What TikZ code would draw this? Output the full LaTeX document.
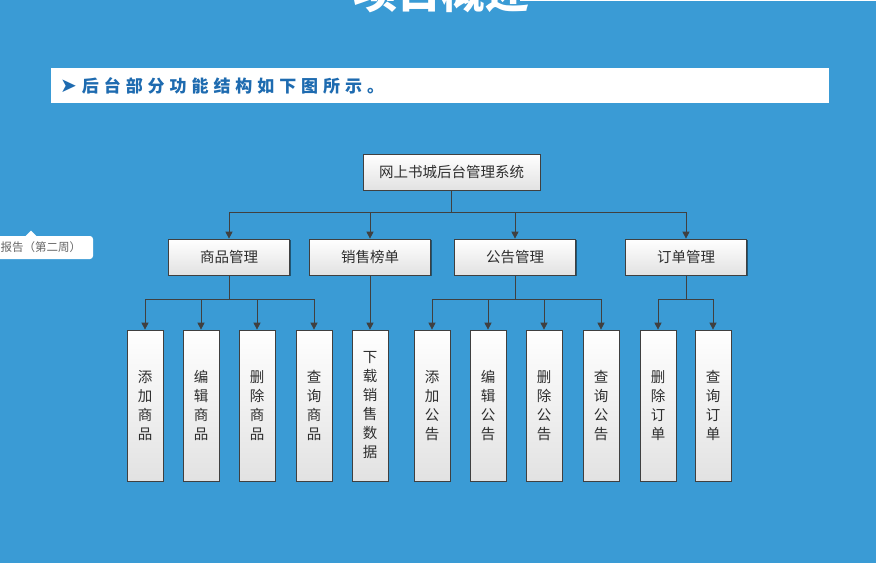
\documentclass[tikz,border=0pt]{standalone}
\usepackage{fontspec}
\usepackage{tikz}
\usetikzlibrary{arrows.meta, shadows, positioning}
\newfontfamily\cjk{Noto Sans CJK SC}
\newfontfamily\symfont{DejaVu Sans}
\definecolor{slideblue}{HTML}{3A9BD5}
\definecolor{boxline}{HTML}{404040}
\definecolor{boxgray}{HTML}{E2E2E2}
\definecolor{textdark}{HTML}{2E2E2E}
\definecolor{bannerblue}{HTML}{1E6BB0}
\definecolor{tipgray}{HTML}{666666}

\begin{document}
\begin{tikzpicture}[x=1pt, y=-1pt,
  module/.style={draw=boxline, line width=0.7pt, top color=white, bottom color=boxgray,
                 drop shadow={shadow xshift=1.2pt, shadow yshift=-1.2pt, opacity=0.45, fill=black},
                 inner sep=0pt, align=center, text=textdark,
                 font=\cjk\fontsize{14.5}{19}\selectfont},
  rootbox/.style={module, minimum width=177pt, minimum height=36pt},
  groupbox/.style={module, minimum width=121pt, minimum height=36pt},
  leafbox/.style={module, minimum width=36pt, minimum height=151pt,
                  font=\cjk\fontsize{14.5}{19}\selectfont},
  link/.style={draw=boxline, line width=0.8pt, -{Triangle[length=7pt, width=7pt]}},
]

% slide background
\useasboundingbox (0,0) rectangle (876,563);
\clip (0,0) rectangle (876,563);
\fill[slideblue] (0,0) rectangle (876,563);
\fill[white] (520,0) rectangle (876,1.2);

% title (cut off at the top)
\node[anchor=base, text=white, font=\cjk\bfseries\fontsize{44}{44}\selectfont] (title) at (441,8) {项目概述};

% banner
\fill[white] (51,68) rectangle (829,103);
\node[anchor=west, inner sep=0pt, text=bannerblue] (banner) at (60,85.5)
  {{\symfont\fontsize{20}{20}\selectfont ➤}\hspace{5pt}{\cjk\bfseries\fontsize{17}{17}\selectfont\addfontfeatures{LetterSpace=29}后台部分功能结构如下图所示。}};

% tooltip
\fill[white, rounded corners=3pt] (-10,236) rectangle (93,259);
\fill[white] (25,236.5) -- (31,230.5) -- (37,236.5) -- cycle;
\node[anchor=west, inner sep=0pt, text=tipgray, font=\cjk\fontsize{11.5}{12}\selectfont] (tip) at (0.5,247.5) {报告（第二周）};

% root
\node[rootbox] (root) at (451.5,172) {网上书城后台管理系统};

% second level
\node[groupbox] (goods)  at (229,257) {商品管理};
\node[groupbox] (sales)  at (370,257) {销售榜单};
\node[groupbox] (notice) at (515,257) {公告管理};
\node[groupbox] (order)  at (686,257) {订单管理};

% leaves
\node[leafbox] (addgoods)  at (145,405.5) {添\\加\\商\\品};
\node[leafbox] (editgoods) at (201,405.5) {编\\辑\\商\\品};
\node[leafbox] (delgoods)  at (257,405.5) {删\\除\\商\\品};
\node[leafbox] (findgoods) at (314,405.5) {查\\询\\商\\品};
\node[leafbox] (download)  at (370,405.5) {下\\载\\销\\售\\数\\据};
\node[leafbox] (addnote)   at (432,405.5) {添\\加\\公\\告};
\node[leafbox] (editnote)  at (488,405.5) {编\\辑\\公\\告};
\node[leafbox] (delnote)   at (544,405.5) {删\\除\\公\\告};
\node[leafbox] (findnote)  at (601,405.5) {查\\询\\公\\告};
\node[leafbox] (delorder)  at (658,405.5) {删\\除\\订\\单};
\node[leafbox] (findorder) at (713,405.5) {查\\询\\订\\单};

% root -> groups
\foreach \g in {goods, sales, notice, order}
  \draw[link] (root.south) -- +(0,22) -| (\g.north);

% groups -> leaves
\foreach \l in {addgoods, editgoods, delgoods, findgoods}
  \draw[link] (goods.south) -- +(0,24) -| (\l.north);
\draw[link] (sales.south) -- (download.north);
\foreach \l in {addnote, editnote, delnote, findnote}
  \draw[link] (notice.south) -- +(0,24) -| (\l.north);
\foreach \l in {delorder, findorder}
  \draw[link] (order.south) -- +(0,24) -| (\l.north);

\end{tikzpicture}
\end{document}
